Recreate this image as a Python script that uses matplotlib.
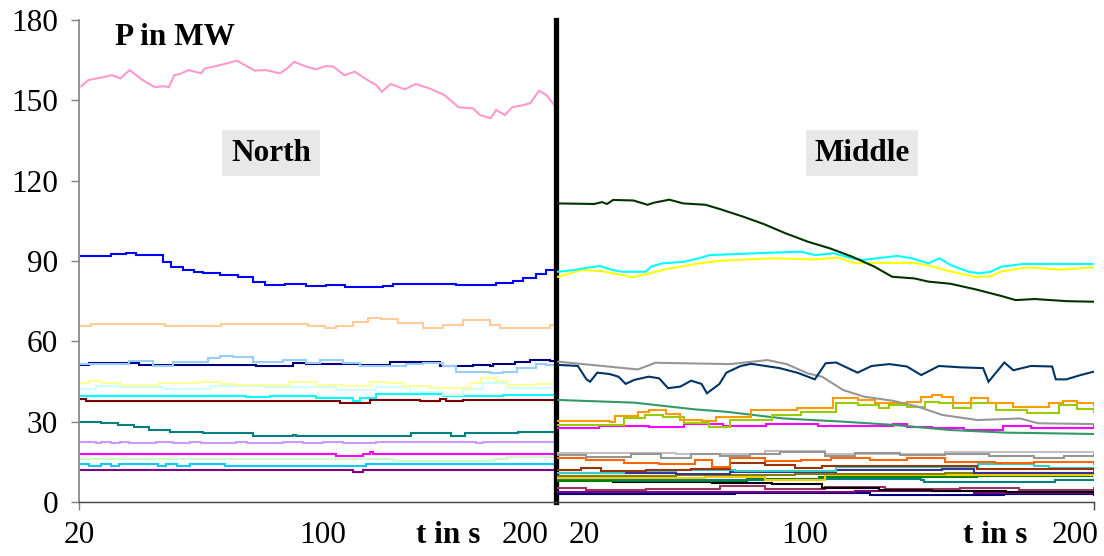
import matplotlib
matplotlib.use('Agg')
import matplotlib.pyplot as plt

plt.rcParams.update({'font.family': ['Liberation Serif', 'DejaVu Serif'], 'font.size': 22})

# ---------------- North ----------------
t_pink = [20.9, 23.6, 29.0, 32.4, 35.7, 39.1, 44.0, 48.6, 51.9, 53.9, 56.0, 58.0, 61.4, 66.1, 67.5, 73.5, 79.6,
          83.7, 86.4, 90.5, 95.9, 98.6, 101.3, 105.3, 109.4, 113.4, 116.1, 120.2, 124.2, 128.3, 132.3, 134.4,
          137.7, 143.1, 147.2, 152.6, 158.0, 163.4, 168.8, 171.5, 175.5, 177.6, 180.9, 183.6, 187.7, 190.4,
          193.8, 196.5, 199.9]
p_pink = [155.3, 157.6, 158.6, 159.4, 158.2, 161.3, 157.6, 154.9, 155.3, 154.9, 159.4, 159.8, 161.3, 160.1, 161.9,
          163.2, 164.8, 162.6, 161.1, 161.3, 160.1, 161.9, 164.4, 162.8, 161.6, 162.8, 162.6, 159.4, 160.7, 158.0,
          155.7, 153.2, 156.1, 154.1, 156.1, 154.4, 152.0, 147.4, 147.0, 144.5, 143.3, 146.4, 144.5, 147.4, 148.2,
          148.9, 153.6, 152.0, 147.9]

t_blue = [20.8, 32.1, 37.8, 41.6, 48.5, 51.6, 54.8, 59.2, 63.6, 66.8, 73.1, 80.0, 85.7, 90.1, 97.7, 105.9, 113.4,
          120.4, 134.8, 138.6, 143.7, 162.6, 177.7, 184.0, 187.8, 192.8, 196.6, 199.8]
p_blue = [91.9, 92.6, 92.9, 92.2, 92.2, 89.7, 87.6, 86.6, 85.9, 85.4, 84.8, 83.9, 82.3, 81.0, 81.4, 80.8, 81.0,
          80.2, 80.7, 81.4, 81.4, 81.1, 81.9, 82.7, 83.5, 85.1, 86.6, 88.1]

t_peach = [20.8, 24.5, 52.3, 73.7, 106.5, 112.8, 117.2, 123.5, 129.2, 134.2, 140.5, 150.0, 157.5, 165.1, 170.1,
           175.2, 179.0, 197.9, 200.0]
p_peach = [65.7, 66.5, 65.7, 66.5, 65.7, 65.0, 65.7, 67.3, 68.7, 68.5, 66.8, 65.1, 66.0, 68.0, 67.8, 66.0, 65.0,
           66.1, 66.1]

t_navy = [20.8, 23.9, 42.8, 79.4, 87.0, 100.8, 105.9, 126.0, 137.4, 156.3, 168.9, 175.2, 176.4, 184.6, 190.3,
          197.9, 200.0]
p_navy = [51.2, 52.0, 51.3, 51.3, 50.8, 52.0, 51.5, 51.2, 52.1, 50.8, 51.3, 50.8, 51.6, 52.2, 53.0, 52.7, 51.9]

t_ltblue = [20.8, 39.0, 47.9, 55.4, 68.7, 73.1, 78.1, 85.7, 97.0, 105.9, 110.9, 119.7, 126.0, 143.7, 150.0, 157.5,
            162.6, 175.2, 180.2, 185.3, 192.8, 196.6, 200.0]
p_ltblue = [51.7, 52.8, 50.8, 52.1, 53.7, 54.5, 54.0, 52.3, 52.9, 52.0, 52.9, 51.8, 50.8, 51.5, 52.0, 50.7, 48.7,
            48.1, 48.7, 49.9, 51.4, 51.1, 49.6]

t_ltyel = [20.8, 23.9, 28.3, 35.3, 50.4, 65.5, 73.1, 79.4, 99.5, 109.6, 119.7, 129.8, 136.1, 142.4, 152.5, 160.1,
           167.6, 172.0, 177.7, 181.5, 192.8, 200.0]
p_ltyel = [44.3, 45.3, 44.5, 43.8, 44.3, 45.0, 44.2, 43.8, 45.0, 43.6, 43.4, 45.0, 44.6, 43.4, 42.6, 42.6, 44.6,
           46.3, 45.3, 43.8, 44.2, 42.6]

t_palecy = [20.8, 26.4, 35.3, 51.6, 69.3, 89.5, 99.5, 117.2, 132.3, 144.9, 157.5, 165.1, 172.7, 181.5, 200.0]
p_palecy = [42.1, 43.3, 42.8, 42.1, 43.3, 42.8, 43.1, 41.9, 43.1, 41.2, 39.9, 42.1, 44.6, 42.5, 40.4]

t_cyanN = [20.8, 83.2, 92.0, 109.6, 123.5, 126.0, 132.3, 157.5, 180.2, 200.0]
p_cyanN = [39.6, 39.2, 39.6, 39.0, 37.8, 39.0, 40.2, 39.6, 40.0, 40.2]

t_dred = [20.8, 22.7, 118.5, 129.8, 148.7, 156.3, 158.8, 165.1, 200.0]
p_dred = [38.3, 37.6, 36.8, 38.1, 37.6, 38.3, 37.6, 38.1, 38.1]

t_teal = [20.8, 28.3, 34.6, 40.9, 46.6, 54.2, 66.8, 70.6, 85.7, 100.8, 102.1, 145.6, 160.7, 165.7, 185.9, 200.0]
p_teal = [30.0, 29.4, 28.7, 27.9, 26.9, 26.2, 25.8, 25.6, 24.7, 25.2, 24.7, 25.6, 24.7, 25.6, 26.2, 26.2]

t_lav = [20.8, 26.4, 28.3, 32.1, 35.3, 39.0, 49.1, 55.4, 62.0, 66.1, 79.4, 83.5, 97.0, 104.6, 112.2, 119.7, 132.3,
         134.8, 170.1, 172.7, 185.9, 200.0]
p_lav = [22.5, 21.9, 22.5, 21.9, 22.5, 21.9, 22.5, 21.9, 22.5, 21.9, 22.5, 21.9, 22.5, 21.9, 22.5, 21.9, 22.5,
         22.5, 21.9, 22.5, 22.5, 22.5]

t_magN = [20.8, 117.2, 127.3, 129.8, 131.0, 200.0]
p_magN = [17.9, 17.2, 17.9, 18.7, 17.9, 17.9]

t_pgreen = [20.8, 138.6, 177.1, 181.5, 200.0]
p_pgreen = [16.2, 15.4, 16.2, 16.7, 16.7]

t_sky = [20.8, 23.9, 28.3, 32.0, 35.0, 50.0, 53.0, 57.0, 62.0, 75.0, 90.0, 128.4, 200.0]
p_sky = [14.2, 13.4, 14.2, 13.4, 14.2, 13.4, 14.2, 13.4, 14.2, 13.4, 13.4, 14.2, 14.2]

t_purN = [20.8, 123.5, 127.3, 200.0]
p_purN = [11.9, 11.2, 11.9, 11.9]

# ---------------- Middle ----------------
t_dgreen = [20.7, 32.8, 35.4, 37.1, 39.1, 45.9, 50.6, 52.9, 57.9, 62.6, 70.0, 75.1, 82.5, 89.5, 96.9, 104.3, 111.7,
            119.1, 126.5, 132.5, 139.9, 144.6, 152.0, 160.4, 169.1, 173.8, 180.2, 190.9, 199.7]
p_dgreen = [111.5, 111.3, 112.0, 111.3, 112.8, 112.6, 111.0, 111.8, 112.9, 111.5, 111.0, 109.3, 106.6, 103.8,
            100.3, 97.2, 94.7, 91.6, 87.9, 84.1, 83.5, 82.3, 81.5, 79.4, 76.9, 75.4, 75.8, 75.0, 74.8]

t_cyanM = [20.7, 26.2, 28.6, 34.7, 38.4, 42.0, 50.0, 51.8, 55.5, 62.8, 67.7, 71.4, 87.2, 101.9, 106.8, 112.9, 119.0,
           122.6, 134.2, 139.1, 144.6, 148.3, 152.0, 158.0, 161.7, 165.4, 169.0, 176.4, 199.6]
p_cyanM = [86.0, 86.6, 87.2, 88.1, 86.8, 86.0, 86.0, 87.9, 89.1, 89.7, 91.0, 92.2, 92.9, 93.5, 92.2, 92.9, 91.0,
           90.4, 91.9, 91.0, 89.1, 91.0, 88.5, 86.0, 85.4, 86.0, 87.9, 88.9, 88.9]

t_yelM = [20.7, 28.6, 34.7, 42.0, 45.7, 50.6, 56.7, 67.7, 75.0, 92.1, 106.8, 114.1, 120.2, 126.3, 139.7, 144.6,
          152.0, 160.5, 165.4, 169.0, 177.6, 188.6, 199.6]
p_yelM = [84.1, 86.6, 86.3, 84.8, 84.0, 85.2, 86.9, 89.1, 90.1, 91.0, 90.6, 91.3, 89.1, 89.3, 89.3, 88.3, 86.1,
          84.0, 84.3, 86.1, 87.6, 86.8, 87.6]

t_nblue = [20.8, 27.3, 30.2, 31.4, 33.8, 37.9, 40.9, 43.3, 46.2, 51.0, 54.5, 57.5, 61.6, 65.2, 68.7, 70.5, 74.7,
           77.0, 81.8, 85.3, 90.1, 94.8, 100.7, 106.6, 110.2, 113.7, 120.9, 125.6, 131.5, 137.4, 142.2, 148.1,
           155.2, 162.9, 164.7, 170.0, 173.0, 178.9, 186.0, 187.2, 190.7, 195.5, 200.0]
p_nblue = [51.2, 50.8, 45.8, 44.9, 48.3, 47.8, 46.8, 44.1, 45.6, 46.8, 46.2, 42.5, 43.1, 45.3, 44.1, 40.6, 44.1,
           48.3, 50.8, 51.6, 50.8, 50.0, 48.3, 45.8, 51.8, 52.1, 48.3, 50.8, 51.5, 50.6, 47.4, 50.8, 50.3, 50.0,
           44.9, 52.1, 49.2, 50.8, 50.6, 45.8, 45.8, 47.4, 48.7]

t_grayM = [20.8, 47.4, 53.3, 78.2, 90.7, 97.2, 104.3, 109.0, 116.1, 123.2, 132.7, 141.0, 149.3, 161.1, 175.3, 181.3,
           200.0]
p_grayM = [52.4, 49.5, 52.0, 51.5, 53.0, 51.5, 48.0, 46.8, 41.8, 39.3, 37.8, 35.6, 32.5, 30.6, 31.2, 29.4, 29.1]

t_sea = [20.8, 46.2, 66.4, 77.0, 96.0, 116.1, 132.7, 151.7, 170.6, 200.0]
p_sea = [38.1, 37.1, 34.6, 33.7, 31.2, 30.0, 28.8, 26.9, 25.9, 25.4]

t_orange = [20.8, 37.9, 39.7, 47.4, 51.0, 56.9, 61.6, 68.7, 73.5, 85.3, 100.7, 112.6, 120.9, 126.8, 137.4, 142.2,
            145.7, 149.3, 152.8, 158.8, 164.7, 173.0, 184.8, 189.6, 194.3, 200.0]
p_orange = [30.4, 30.0, 32.1, 33.7, 34.2, 33.0, 30.8, 30.4, 31.6, 34.2, 35.0, 38.7, 38.1, 36.8, 37.4, 39.3, 39.9,
            39.1, 36.8, 38.7, 36.8, 35.6, 36.8, 37.9, 36.8, 35.8]

t_ygreen = [20.8, 39.1, 42.7, 49.8, 55.7, 62.8, 71.1, 78.2, 92.4, 101.9, 113.7, 120.9, 128.0, 131.5, 137.4, 143.4,
            148.1, 152.8, 158.8, 167.1, 177.7, 188.4, 194.3, 200.0]
p_ygreen = [28.8, 28.8, 31.2, 32.5, 31.9, 29.4, 28.1, 30.6, 32.5, 33.7, 36.8, 36.2, 35.0, 36.2, 35.4, 37.4, 37.0,
            35.0, 36.8, 34.2, 33.4, 36.2, 34.6, 33.7]

t_magM = [20.8, 34.4, 51.0, 62.8, 75.8, 90.1, 107.8, 132.7, 137.4, 145.7, 156.4, 169.4, 178.9, 200.0]
p_magM = [27.5, 28.3, 28.1, 29.1, 28.3, 29.1, 28.3, 29.1, 28.1, 27.5, 26.9, 28.3, 27.8, 28.3]

t_ltgray = [20.8, 60.0, 90.0, 110.0, 150.0, 200.0]
p_ltgray = [18.4, 17.8, 19.0, 18.0, 18.6, 17.8]

t_gray2 = [20.8, 30.0, 45.0, 55.0, 65.0, 75.0, 85.0, 95.0, 110.0, 120.0, 135.0, 150.0, 165.0, 180.0, 190.0, 200.0]
p_gray2 = [17.5, 16.8, 17.8, 16.5, 18.0, 17.0, 17.8, 18.8, 17.2, 18.2, 17.5, 18.0, 17.2, 16.5, 17.0, 17.5]

t_ored = [20.8, 30.0, 42.7, 54.5, 66.4, 72.3, 78.2, 90.0, 102.0, 112.0, 125.0, 137.4, 150.0, 167.0, 180.0, 200.0]
p_ored = [16.3, 15.6, 14.7, 14.2, 15.6, 13.2, 16.3, 15.3, 15.8, 16.5, 15.6, 16.3, 15.0, 14.4, 14.9, 14.2]

t_brown = [20.8, 28.5, 35.0, 50.0, 65.0, 78.2, 90.0, 100.0, 109.0, 137.4, 161.0, 200.0]
p_brown = [11.8, 12.7, 11.5, 11.8, 12.5, 14.4, 13.8, 12.6, 13.4, 13.6, 12.2, 12.0]

t_turq = [20.8, 42.7, 60.0, 80.0, 113.7, 140.0, 161.1, 180.0, 184.8, 200.0]
p_turq = [11.0, 11.6, 12.0, 11.5, 13.0, 13.2, 14.2, 13.6, 12.6, 12.3]

t_slate = [20.8, 60.0, 78.2, 113.7, 149.0, 160.0, 200.0]
p_slate = [10.7, 10.4, 11.2, 11.8, 12.4, 11.0, 10.7]

t_olive = [20.8, 60.0, 100.0, 150.0, 200.0]
p_olive = [9.8, 10.2, 10.6, 11.0, 11.2]

t_gold = [20.8, 70.0, 90.0, 110.0, 150.0, 180.0, 200.0]
p_gold = [9.0, 9.2, 8.4, 10.1, 10.0, 10.2, 9.6]

t_tealM = [20.8, 40.0, 100.0, 142.0, 143.0, 187.0, 200.0]
p_tealM = [8.6, 8.2, 8.5, 8.4, 7.5, 8.2, 8.4]

t_green = [20.8, 84.0, 108.0, 161.0, 200.0]
p_green = [8.0, 8.6, 9.2, 9.8, 9.6]

t_black = [20.8, 39.1, 72.3, 92.4, 109.0, 128.0, 145.7, 170.6, 200.0]
p_black = [8.4, 7.6, 7.0, 6.6, 5.4, 4.5, 4.0, 3.7, 3.5]

t_mauve = [20.8, 30.0, 50.0, 75.0, 90.0, 110.0, 130.0, 155.0, 175.0, 200.0]
p_mauve = [5.1, 4.6, 5.0, 5.8, 4.8, 5.5, 4.9, 5.2, 4.6, 5.1]

t_purM = [20.8, 80.0, 120.0, 160.0, 200.0]
p_purM = [3.8, 3.6, 4.2, 3.5, 3.8]

t_navyM = [20.8, 80.0, 125.0, 170.0, 200.0]
p_navyM = [3.0, 3.2, 2.8, 3.1, 2.6]

yticks = [0, 30, 60, 90, 120, 150, 180]

# (t, p, colour, stepped)
north = [(t_pgreen, p_pgreen, '#CCFFCC', True), (t_sky, p_sky, '#00CCFF', True),
         (t_purN, p_purN, '#800080', True), (t_magN, p_magN, '#FF00FF', True),
         (t_lav, p_lav, '#CC99FF', True), (t_teal, p_teal, '#008080', True),
         (t_dred, p_dred, '#800000', True), (t_cyanN, p_cyanN, '#00FFFF', True),
         (t_palecy, p_palecy, '#CCFFFF', True), (t_ltyel, p_ltyel, '#FFFF99', True),
         (t_navy, p_navy, '#000080', True), (t_ltblue, p_ltblue, '#99CCFF', True),
         (t_peach, p_peach, '#FFCC99', True), (t_blue, p_blue, '#0000FF', True),
         (t_pink, p_pink, '#FF99CC', False)]
middle = [(t_navyM, p_navyM, '#000080', True), (t_purM, p_purM, '#800080', True),
          (t_mauve, p_mauve, '#993366', True), (t_black, p_black, '#000000', True),
          (t_green, p_green, '#008000', True), (t_tealM, p_tealM, '#008080', True),
          (t_gold, p_gold, '#FFCC00', True), (t_olive, p_olive, '#808000', True),
          (t_slate, p_slate, '#333399', True), (t_turq, p_turq, '#33CCCC', True),
          (t_brown, p_brown, '#993300', True), (t_ored, p_ored, '#FF6600', True),
          (t_ltgray, p_ltgray, '#C0C0C0', True), (t_gray2, p_gray2, '#969696', True),
          (t_magM, p_magM, '#FF00FF', True), (t_sea, p_sea, '#339966', False),
          (t_ygreen, p_ygreen, '#99CC00', True), (t_orange, p_orange, '#FF9900', True),
          (t_grayM, p_grayM, '#969696', False), (t_nblue, p_nblue, '#003366', False),
          (t_yelM, p_yelM, '#FFFF00', False), (t_cyanM, p_cyanM, '#00FFFF', False),
          (t_dgreen, p_dgreen, '#003300', False)]

W, H = 1104, 556
fig = plt.figure(figsize=(W / 100, H / 100), dpi=100)
y0, y1 = 502, 20
axN = fig.add_axes([79 / W, (H - y0) / H, (555.5 - 79) / W, (y0 - y1) / H])
axM = fig.add_axes([556 / W, (H - y0) / H, (1094 - 556) / W, (y0 - y1) / H])

for ax, series in ((axN, north), (axM, middle)):
    for t, p, c, st in series:
        ax.plot(t, p, color=c, lw=1.5, drawstyle='steps-post' if st else 'default',
                solid_joinstyle='miter')
    ax.set_xlim(20, 200)
    ax.set_ylim(0, 180)
    ax.spines['top'].set_visible(False)
    ax.spines['bottom'].set_color('#404040')
    ax.spines['bottom'].set_linewidth(1.0)
    ax.set_facecolor('none')

axN.set_yticks(yticks)
axN.tick_params(axis='y', direction='out', length=6, width=1.0, color='#808080', pad=9, labelsize=22.5)
axN.spines['left'].set_color('#808080')
axN.spines['left'].set_linewidth(1.2)
axN.spines['right'].set_color('black')
axN.spines['right'].set_linewidth(3.8)
axN.set_xticks([20])
axN.set_xticklabels([''])
axN.tick_params(axis='x', direction='out', length=6, width=1.0, color='#808080')

axM.spines['left'].set_visible(False)
axM.spines['right'].set_visible(False)
axM.set_yticks([])
axM.set_xticks([200])
axM.set_xticklabels([''])
axM.tick_params(axis='x', direction='out', length=6, width=1.0, color='#404040')

# x labels placed as in the original sheet
for ax, pos in ((axN, [(0.0, '20'), (0.511, '100'), (0.937, '200')]),
                (axM, [(0.052, '20'), (0.462, '100'), (0.965, '200')])):
    for x, s in pos:
        ax.text(x, -0.07, s, transform=ax.transAxes, ha='center', va='center', fontsize=22.5)
axN.text(0.774, -0.07, 't in s', transform=axN.transAxes, ha='center', va='center',
         fontsize=22.5, fontweight='bold')
axM.text(0.817, -0.07, 't in s', transform=axM.transAxes, ha='center', va='center',
         fontsize=22.5, fontweight='bold')

axN.text(0.075, 0.963, 'P in MW', transform=axN.transAxes, ha='left', va='center',
         fontsize=22.5, fontweight='bold')
box = dict(boxstyle='square,pad=0.28', facecolor='#E8E8E8', edgecolor='none')
axN.text(0.403, 0.724, 'North', transform=axN.transAxes, ha='center', va='center',
         fontsize=22.5, fontweight='bold', bbox=box)
axM.text(0.569, 0.724, 'Middle', transform=axM.transAxes, ha='center', va='center',
         fontsize=22.5, fontweight='bold', bbox=box)

fig.savefig('out.png', dpi=100, facecolor='white')
